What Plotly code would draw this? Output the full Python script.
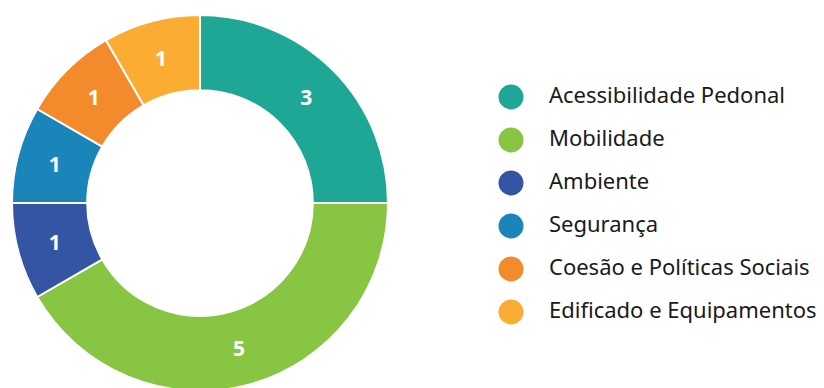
import plotly.graph_objects as go

# categories and counts
categorias = ["Acessibilidade Pedonal", "Mobilidade", "Ambiente", "Segurança",
              "Coesão e Políticas Sociais", "Edificado e Equipamentos"]
valores = [3, 5, 1, 1, 1, 1]
cores = ["#1fa795", "#88c542", "#3355a3", "#1a85b8", "#f38b2c", "#fbad33"]

W, H = 824, 388
OFF = 8  # page body margin

fig = go.Figure()

fig.add_trace(go.Pie(
    labels=categorias,
    values=valores,
    sort=False,
    direction="clockwise",
    rotation=0,
    hole=0.6,
    marker=dict(colors=cores, line=dict(color="white", width=2)),
    textinfo="value",
    textposition="inside",
    insidetextorientation="horizontal",
    textfont=dict(family="Open Sans", size=21, color="white", weight="bold"),
    domain=dict(x=[(12 - OFF) / W, (388 - OFF) / W],
                y=[1 - (391 - OFF) / H, 1 - (15 - OFF) / H]),
    showlegend=False,
))

# legend drawn as a scatter on hidden axes, so the dots can be big circles
pos = list(range(len(categorias)))
fig.add_trace(go.Scatter(
    x=[23] * len(categorias), y=pos,
    mode="markers",
    marker=dict(size=25, color=cores, symbol="circle"),
    cliponaxis=False,
    hoverinfo="skip", showlegend=False,
))
fig.add_trace(go.Scatter(
    x=[61] * len(categorias), y=pos,
    mode="text", text=categorias, textposition="middle right",
    textfont=dict(family="Noto Sans", size=22, color="#1a1a1a"),
    cliponaxis=False,
    hoverinfo="skip", showlegend=False,
))

y0 = 97 - OFF
fig.update_layout(
    width=W, height=H,
    margin=dict(l=0, r=0, t=0, b=0),
    paper_bgcolor="white", plot_bgcolor="white",
    xaxis=dict(domain=[480 / W, 1], range=[0, 344], visible=False, fixedrange=True),
    yaxis=dict(domain=[0, 1], range=[(H - y0) / 43, -y0 / 43], visible=False, fixedrange=True),
)

fig.write_html("out.html")
